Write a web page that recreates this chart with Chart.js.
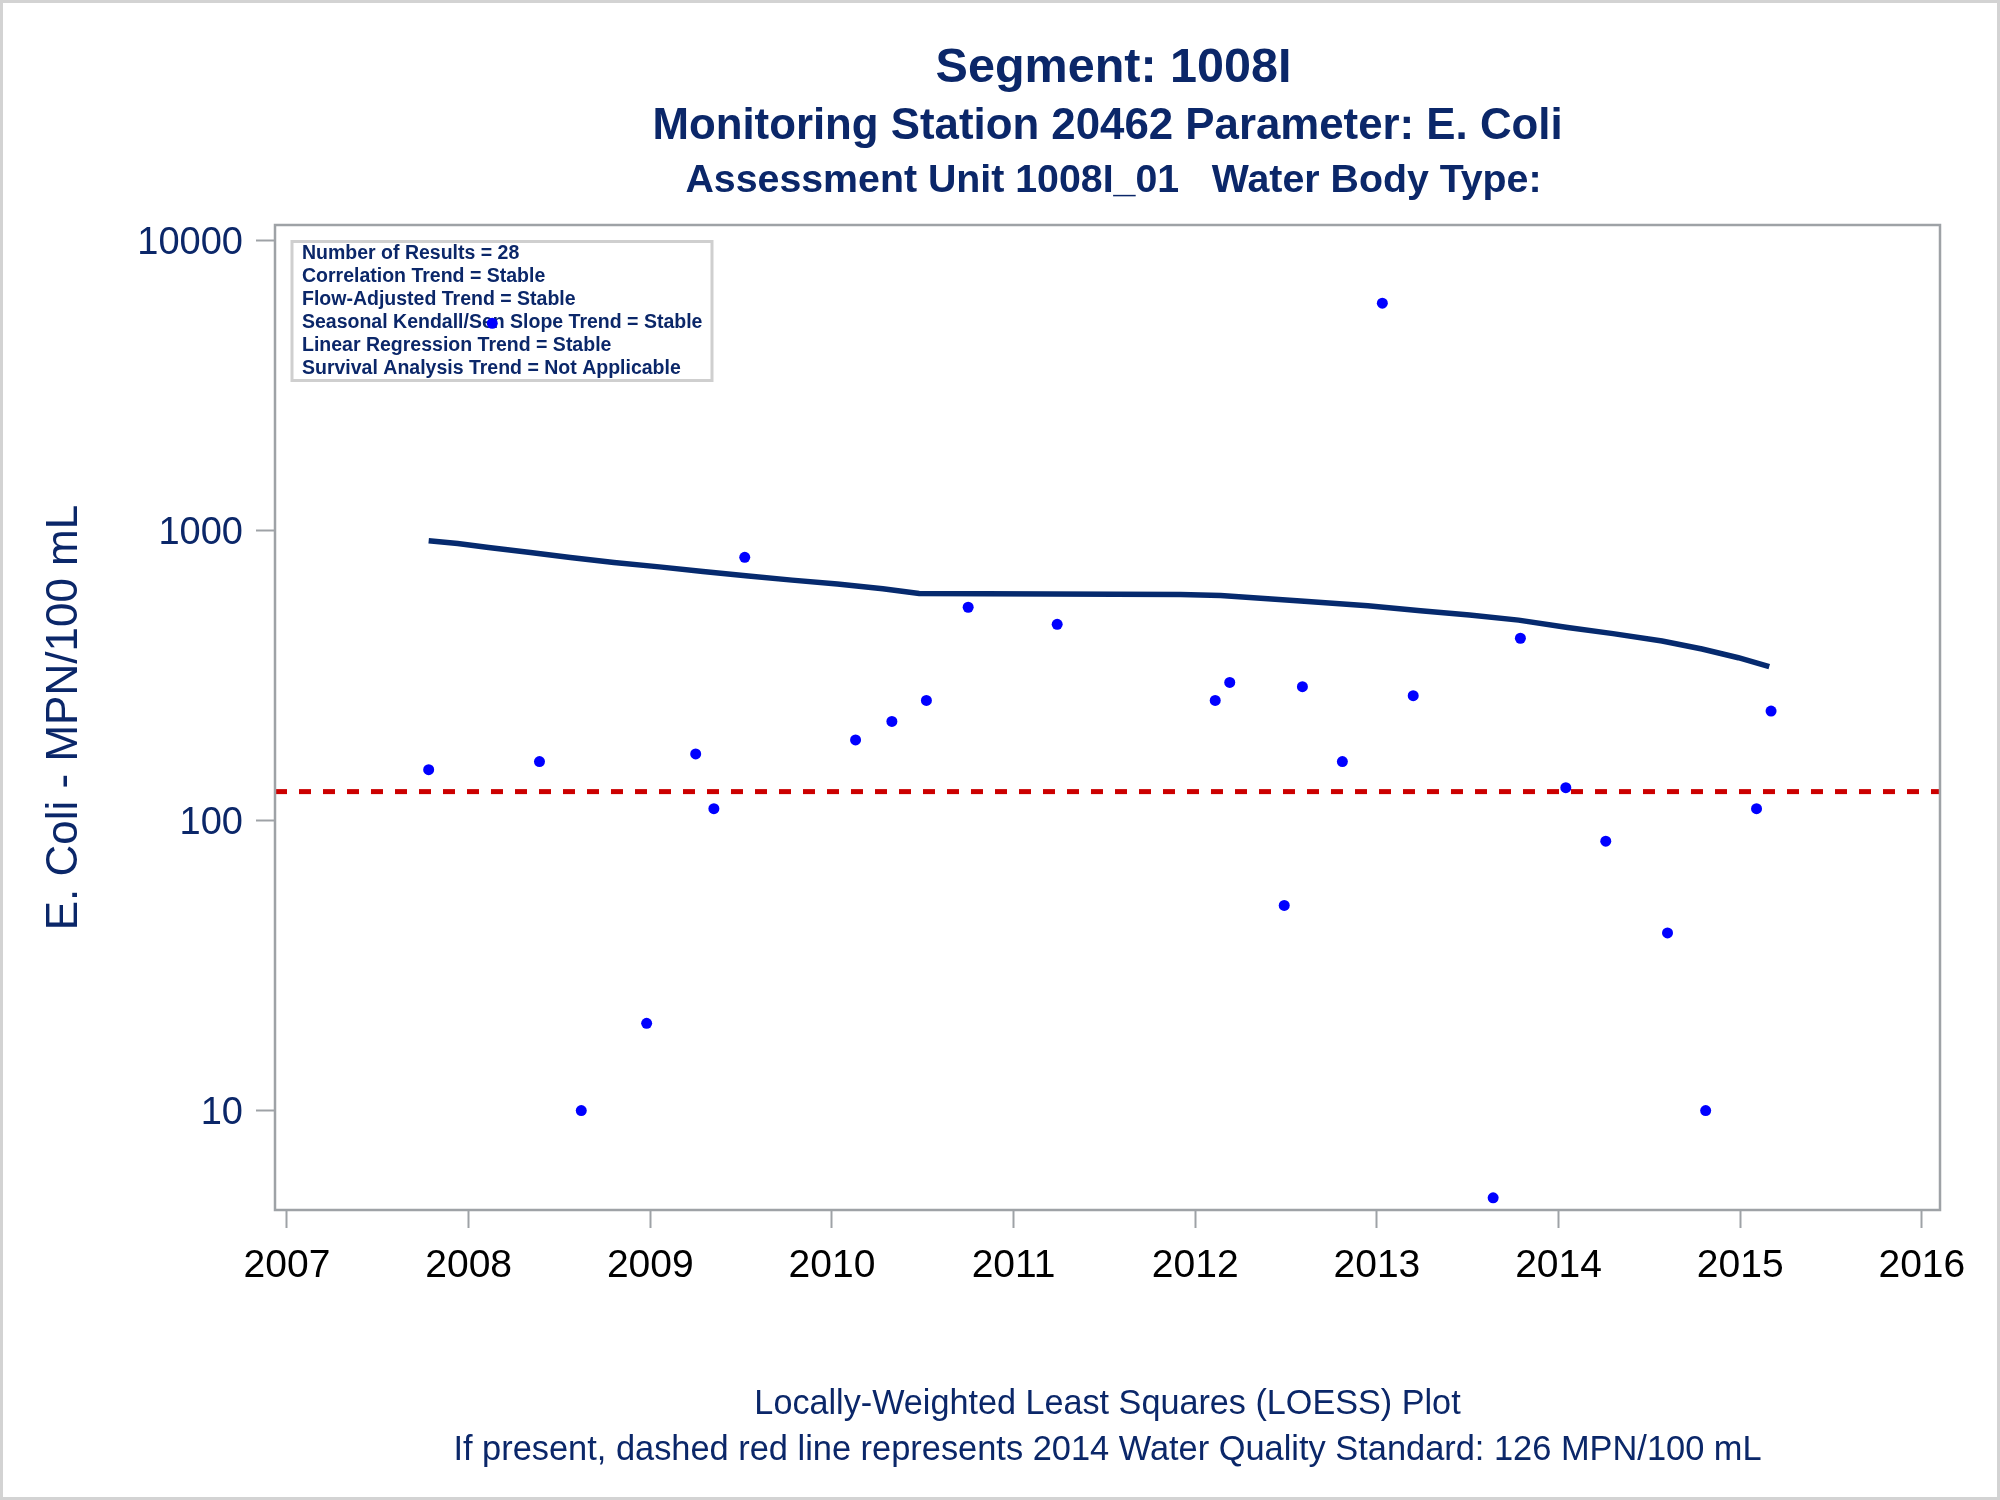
<!DOCTYPE html>
<html>
<head>
<meta charset="utf-8">
<title>Segment 1008I - E. Coli LOESS</title>
<script src="https://cdn.jsdelivr.net/npm/chart.js@4.4.1/dist/chart.umd.min.js"></script>
<style>
  html, body { margin: 0; padding: 0; background: #fff; }
  #wrap { position: relative; width: 2000px; height: 1500px; }
</style>
</head>
<body>
<div id="wrap"><canvas id="loessChart" width="2000" height="1500"></canvas></div>
<script>
// ── DATA ──────────────────────────────────────────
const xTicks = [2007, 2008, 2009, 2010, 2011, 2012, 2013, 2014, 2015, 2016];
const yTicks = [10, 100, 1000, 10000];

// sample dates (decimal years) and E. coli results (MPN/100 mL)
const sampleYears = [2007.78, 2008.13, 2008.39, 2008.62, 2008.98, 2009.25, 2009.35, 2009.52,
                     2010.13, 2010.33, 2010.52, 2010.75, 2011.24, 2012.11, 2012.19, 2012.49,
                     2012.59, 2012.81, 2013.03, 2013.20, 2013.64, 2013.79, 2014.04, 2014.26,
                     2014.60, 2014.81, 2015.09, 2015.17];
const ecoli = [150, 5200, 160, 10, 20, 170, 110, 810,
               190, 220, 260, 545, 476, 260, 300, 51,
               290, 160, 6100, 270, 5, 426, 130, 85,
               41, 10, 110, 239];

// LOESS fitted curve
const loessYears = [2007.78, 2007.94, 2008.11, 2008.34, 2008.56, 2008.80, 2009.05, 2009.29,
                    2009.54, 2009.78, 2010.03, 2010.28, 2010.48, 2011.92, 2012.14, 2012.58,
                    2012.95, 2013.24, 2013.51, 2013.78, 2014.05, 2014.30, 2014.57, 2014.79,
                    2014.99, 2015.16];
const loessValues = [924, 904, 876, 842, 809, 777, 751, 724,
                     699, 676, 655, 631, 608, 603, 598, 573,
                     551, 530, 512, 492, 464, 442, 417, 391,
                     365, 340];

const standard = 126;

const statsLines = [
  'Number of Results = 28',
  'Correlation Trend = Stable',
  'Flow-Adjusted Trend = Stable',
  'Seasonal Kendall/Sen Slope Trend = Stable',
  'Linear Regression Trend = Stable',
  'Survival Analysis Trend = Not Applicable',
];

const titles = [
  { text: 'Segment: 1008I', size: 48.5, y: 82, dx: 6 },
  { text: 'Monitoring Station 20462 Parameter: E. Coli', size: 43.8, y: 139, dx: 0 },
  { text: 'Assessment Unit 1008I_01   Water Body Type:', size: 39.3, y: 192, dx: 6 },
];
const footnotes = [
  { text: 'Locally-Weighted Least Squares (LOESS) Plot', size: 34.2, y: 1414 },
  { text: 'If present, dashed red line represents 2014 Water Quality Standard: 126 MPN/100 mL', size: 34.4, y: 1460 },
];

const X_MIN = 2006.934, X_MAX = 2016.1;
const Y_MIN = 4.54, Y_MAX = 11350;

// ── STYLE ─────────────────────────────────────────
const FONT = "'Liberation Sans', Arial, Helvetica, sans-serif";
const NAVY = '#0b2769';
const FRAME = '#9ea2a6';

// ── PLUGIN: frame, inset box, titles ──────────────
const decorations = {
  id: 'decorations',
  beforeDraw(chart) {
    const ctx = chart.ctx;
    ctx.save();
    ctx.fillStyle = '#fff';
    ctx.fillRect(0, 0, chart.width, chart.height);
    ctx.restore();
  },
  beforeDatasetsDraw(chart) {
    const { ctx, chartArea: a } = chart;
    ctx.save();
    // inset statistics box
    const bx = a.left + 17, by = a.top + 16.5;
    ctx.strokeStyle = '#cfcfcf';
    ctx.lineWidth = 3;
    ctx.strokeRect(bx, by, 420, 139);
    ctx.fillStyle = NAVY;
    ctx.font = `bold 19.5px ${FONT}`;
    ctx.textAlign = 'left';
    ctx.textBaseline = 'middle';
    statsLines.forEach((line, i) => ctx.fillText(line, a.left + 27, a.top + 29 + i * 23));
    ctx.restore();
  },
  afterDraw(chart) {
    const { ctx, chartArea: a } = chart;
    const cx = (a.left + a.right) / 2;
    ctx.save();
    // plot frame
    ctx.strokeStyle = FRAME;
    ctx.lineWidth = 2.5;
    ctx.strokeRect(a.left, a.top, a.right - a.left, a.bottom - a.top);
    // titles
    ctx.fillStyle = NAVY;
    ctx.textAlign = 'center';
    ctx.textBaseline = 'alphabetic';
    titles.forEach(t => {
      ctx.font = `bold ${t.size}px ${FONT}`;
      ctx.fillText(t.text, cx + t.dx, t.y);
    });
    footnotes.forEach(f => {
      ctx.font = `${f.size}px ${FONT}`;
      ctx.fillText(f.text, cx, f.y);
    });
    // outer border
    ctx.strokeStyle = '#d3d3d3';
    ctx.lineWidth = 3;
    ctx.strokeRect(1.5, 1.5, chart.width - 3, chart.height - 3);
    ctx.restore();
  },
};

// ── CHART ─────────────────────────────────────────
const points = sampleYears.map((x, i) => ({ x, y: ecoli[i] }));
const curve = loessYears.map((x, i) => ({ x, y: loessValues[i] }));
const standardLine = [{ x: X_MIN, y: standard }, { x: X_MAX, y: standard }];

new Chart(document.getElementById('loessChart').getContext('2d'), {
  type: 'scatter',
  data: {
    datasets: [
      {
        label: 'E. Coli',
        data: points,
        backgroundColor: '#0000ff',
        borderWidth: 0,
        pointRadius: 5.5,
      },
      {
        label: 'LOESS',
        data: curve,
        showLine: true,
        borderColor: '#062a6e',
        borderWidth: 5.5,
        pointRadius: 0,
        tension: 0,
      },
      {
        label: 'Standard',
        data: standardLine,
        showLine: true,
        borderColor: '#cc0000',
        borderWidth: 5,
        borderDash: [12, 12],
        pointRadius: 0,
      },
    ],
  },
  options: {
    responsive: false,
    animation: false,
    devicePixelRatio: 1,
    events: [],
    layout: { padding: { left: 0, top: 225, right: 60, bottom: 200 } },
    plugins: {
      legend: { display: false },
      tooltip: { enabled: false },
      title: { display: false },
    },
    scales: {
      x: {
        type: 'linear',
        min: X_MIN,
        max: X_MAX,
        afterBuildTicks: s => { s.ticks = xTicks.map(v => ({ value: v })); },
        afterFit: s => { s.height = 90; },
        border: { display: false },
        grid: { drawOnChartArea: false, drawTicks: true, tickLength: 18, tickColor: FRAME, tickWidth: 2 },
        ticks: {
          color: '#000',
          padding: 15,
          maxRotation: 0,
          font: { family: FONT, size: 39, lineHeight: 1.2 },
          callback: v => String(v),
        },
      },
      y: {
        type: 'logarithmic',
        min: Y_MIN,
        max: Y_MAX,
        afterBuildTicks: s => { s.ticks = yTicks.map(v => ({ value: v })); },
        afterFit: s => { s.width = 275; },
        border: { display: false },
        grid: { drawOnChartArea: false, drawTicks: true, tickLength: 19, tickColor: FRAME, tickWidth: 2 },
        ticks: {
          color: NAVY,
          padding: 13,
          labelOffset: 3,
          font: { family: FONT, size: 38, lineHeight: 1.2 },
          callback: v => String(v),
        },
        title: {
          display: true,
          text: 'E. Coli - MPN/100 mL',
          color: NAVY,
          font: { family: FONT, size: 44, lineHeight: 1.2 },
          padding: { top: 38, bottom: 0 },
        },
      },
    },
  },
  plugins: [decorations],
});
</script>
</body>
</html>
